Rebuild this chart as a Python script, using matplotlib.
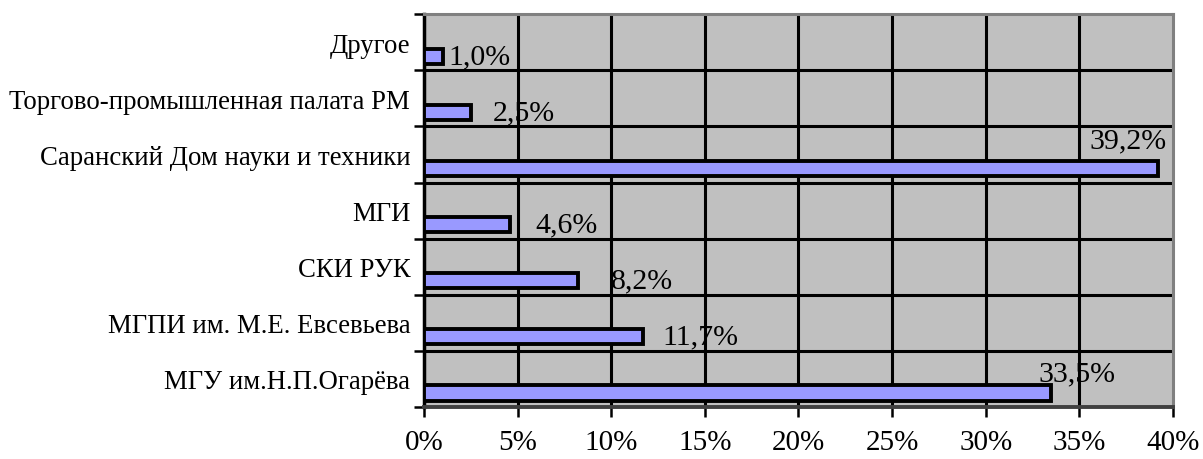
import matplotlib.pyplot as plt
import numpy as np
from matplotlib.ticker import FixedLocator, NullFormatter

plt.rcParams['font.family'] = ['Liberation Serif', 'DejaVu Serif']

# данные (снизу вверх)
categories = ['МГУ им.Н.П.Огарёва', 'МГПИ им. М.Е. Евсевьева', 'СКИ РУК', 'МГИ',
              'Саранский Дом науки и техники', 'Торгово-промышленная палата РМ', 'Другое']
values = [33.5, 11.7, 8.2, 4.6, 39.2, 2.5, 1.0]
labels = ['33,5%', '11,7%', '8,2%', '4,6%', '39,2%', '2,5%', '1,0%']
x_ticks = [0, 5, 10, 15, 20, 25, 30, 35, 40]

# смещения подписей от конца столбца (точки)
label_dx = [-9, 14, 24, 18, -49, 16, 4]
label_dy = [14, 0, 0, 0, 20, 0, 0]

fig = plt.figure(figsize=(12.03, 4.6), dpi=100)
ax = fig.add_axes([0.3525, 0.113, 0.6225, 0.854])
ax.set_facecolor('#C0C0C0')

y = np.arange(len(categories))
ax.barh(y - 0.25, values, height=0.27, color='#9999FF',
        edgecolor='black', linewidth=2.8, zorder=3)

for i in range(len(values)):
    ax.annotate(labels[i], xy=(values[i], y[i] - 0.25),
                xytext=(label_dx[i], label_dy[i]), textcoords='offset points',
                ha='left', va='center', fontsize=21.5, zorder=4)

ax.set_xlim(0, 40)
ax.set_ylim(-0.5, len(categories) - 0.5)

ax.set_xticks(x_ticks)
ax.set_xticklabels([f'{t}%' for t in x_ticks], fontsize=21)
ax.tick_params(axis='x', direction='out', length=7, width=1.8, pad=9)

ax.yaxis.set_major_locator(FixedLocator(np.arange(-0.5, len(categories), 1.0)))
ax.yaxis.set_major_formatter(NullFormatter())
ax.yaxis.set_minor_locator(FixedLocator(y))
ax.set_yticklabels(categories, minor=True, fontsize=19.3)
ax.tick_params(axis='y', which='major', direction='out', length=7, width=1.8)
ax.tick_params(axis='y', which='minor', length=0, pad=10)

for xv in x_ticks[1:-1]:
    ax.axvline(xv, color='black', linewidth=2.2, zorder=1)
for yv in np.arange(0.5, len(categories) - 1, 1.0):
    ax.axhline(yv, color='black', linewidth=2.2, zorder=1)

ax.spines['top'].set_color('#808080')
ax.spines['right'].set_color('#808080')
ax.spines['top'].set_linewidth(2.2)
ax.spines['right'].set_linewidth(2.2)
ax.spines['left'].set_color('black')
ax.spines['left'].set_linewidth(2.5)
ax.spines['bottom'].set_color('#404040')
ax.spines['bottom'].set_linewidth(2.8)

fig.savefig('out.png', dpi=100)
